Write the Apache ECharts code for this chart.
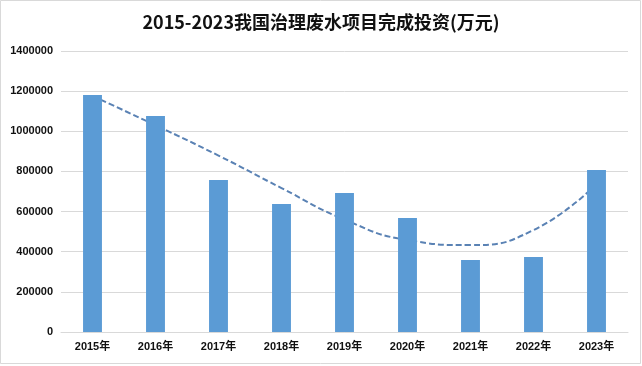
<!DOCTYPE html>
<html>
<head>
<meta charset="utf-8">
<script src="https://cdn.jsdelivr.net/npm/echarts@6/dist/echarts.min.js"></script>
<style>
html,body{margin:0;padding:0;background:#fff;}
#c{width:642px;height:366px;}
</style>
</head>
<body>
<div id="c"></div>
<script>
var categories = ['2015年','2016年','2017年','2018年','2019年','2020年','2021年','2022年','2023年'];
var investment = [1181000, 1076000, 757000, 638000, 692000, 568000, 359000, 374000, 807000];
var trend = [1176000, 1030000, 879000, 717000, 560000, 458000, 433000, 508000, 737000];
var yTicks = [0, 200000, 400000, 600000, 800000, 1000000, 1200000, 1400000];

var chart = echarts.init(document.getElementById('c'), null, {renderer:'canvas'});
chart.setOption({
  animation: false,
  backgroundColor: '#fff',
  title: {
    text: '2015-2023我国治理废水项目完成投资(万元)',
    left: 'center',
    top: 8,
    textStyle: {fontFamily: '"Noto Sans CJK SC", sans-serif', fontSize: 18, fontWeight: 'bold', color: '#111'}
  },
  graphic: [{
    type: 'rect', shape: {x: 0.5, y: 0.5, width: 640, height: 363},
    style: {fill: 'none', stroke: '#d9d9d9', lineWidth: 1}, silent: true
  }],
  grid: {left: 61, right: 14, top: 51, bottom: 34},
  xAxis: {
    type: 'category',
    data: categories,
    axisLine: {lineStyle: {color: '#d9d9d9'}},
    axisTick: {show: false},
    axisLabel: {color: '#111', fontSize: 11, fontWeight: 'bold', fontFamily: '"Liberation Sans", Arial, "Noto Sans CJK SC", sans-serif', margin: 9}
  },
  yAxis: {
    type: 'value',
    min: yTicks[0],
    max: yTicks[yTicks.length - 1],
    interval: 200000,
    axisLine: {show: false},
    axisTick: {show: false},
    splitLine: {lineStyle: {color: '#d9d9d9'}},
    axisLabel: {color: '#111', fontSize: 11, fontWeight: 'bold', fontFamily: '"Liberation Sans", Arial, sans-serif', margin: 8,
      formatter: function (v) { return String(v); }}
  },
  series: [
    {
      type: 'line',
      data: trend,
      smooth: true,
      symbol: 'none',
      z: 1,
      lineStyle: {color: '#5a82b4', width: 2, type: [6, 3]}
    },
    {
      type: 'bar',
      data: investment,
      barWidth: '30%',
      z: 3,
      itemStyle: {color: '#5b9bd5'}
    }
  ]
});
</script>
</body>
</html>
